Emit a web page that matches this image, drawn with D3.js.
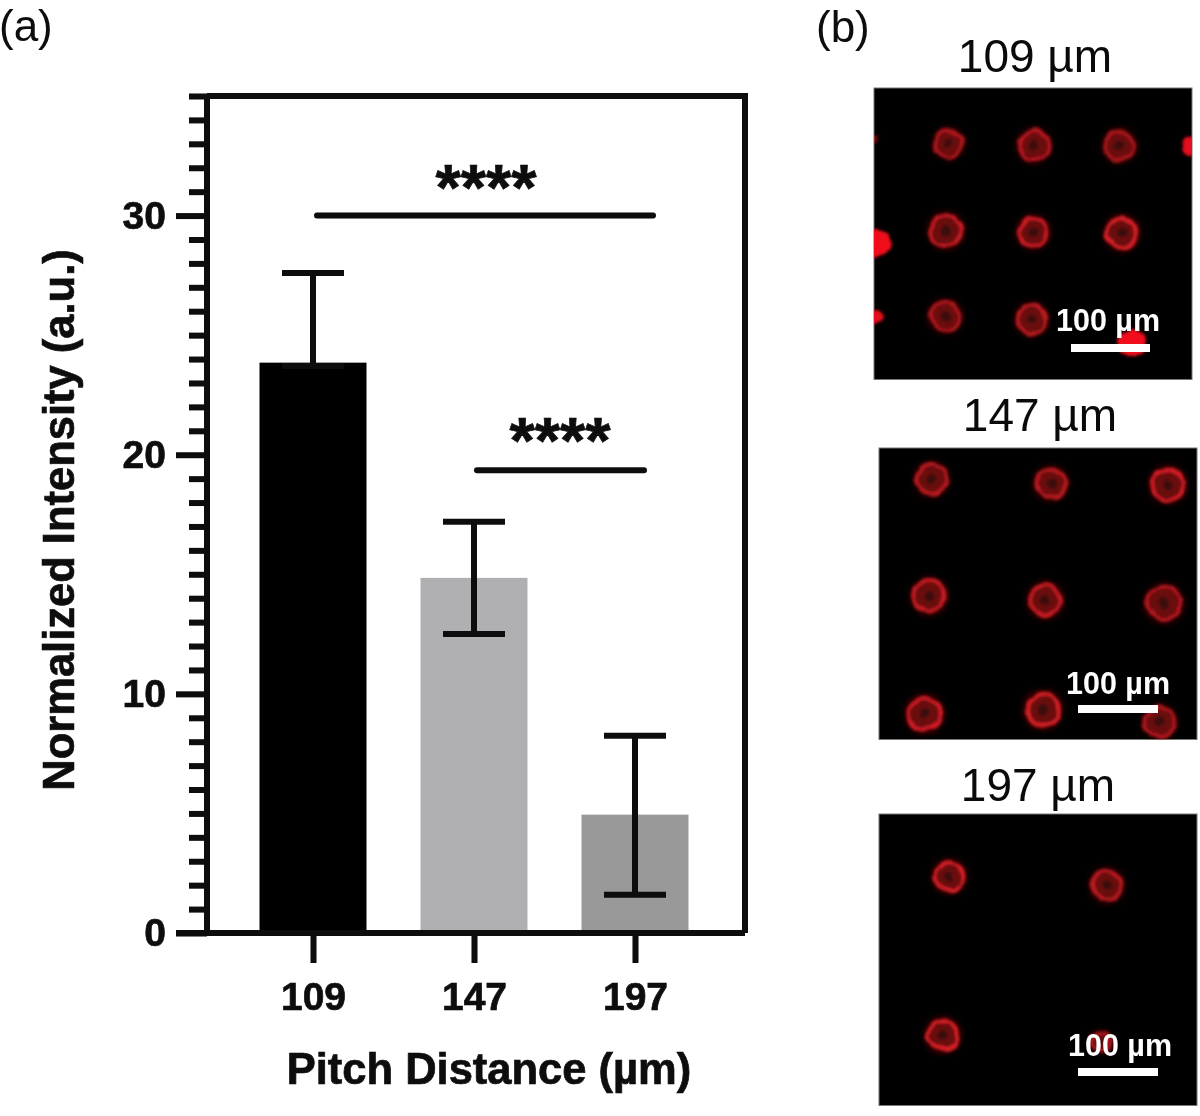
<!DOCTYPE html>
<html><head><meta charset="utf-8">
<script src="https://cdn.jsdelivr.net/npm/d3@7/dist/d3.min.js"></script>
<style>html,body{margin:0;background:#fff}svg{display:block}text{font-family:"Liberation Sans",Arial,sans-serif}</style>
</head><body><div id="c"></div>
<script>
const categories=["109","147","197"];
const means=[23.85,14.85,4.95];
const errLow=[23.7,12.5,1.6];
const errHigh=[27.6,17.2,8.25];
const barColors=["#000000","#b0b0b3","#999999"];
const majorTicks=[0,10,20,30];
const minorTicks=[1,2,3,4,5,6,7,8,9,11,12,13,14,15,16,17,18,19,21,22,23,24,25,26,27,28,29,31,32,33,34,35];
const sigBars=[{from:"109",to:"197",y:30,x0:4,x1:18,label:"****",lx:486,ly:210},{from:"147",to:"197",y:19.35,x0:3,x1:9,label:"****",lx:560,ly:463}];

// micrographs: cell centres and radii in micrometres from the panel's top-left corner
const panelTitles=["109 µm","147 µm","197 µm"];
const cells109=[[93,69,20,.65],[200,72,22,.7],[307,72,22,.6],[90,178,23,.85],[199,180,21,.95],[310,181,22,1],[89,285,22,.65],[197,289,21,.75]];
const blobs109=[[397,72,12,.95],[3,194,18,1],[1,286,10,.95],[322,319,17,1],[0,65,5,.45]];
const cells147=[[66,39,22,.75],[215,44,22,.75],[361,46,23,.95],[63,185,23,.85],[208,190,23,.85],[356,194,25,.7],[57,332,24,.95],[205,327,24,1],[351,342,22,.65]];
const blobs147=[];
const cells197=[[88,78,21,1],[285,89,22,.75],[80,276,22,1],[277,284,14,.6]];
const blobs197=[];
const panelCells=[cells109,cells147,cells197];
const panelBlobs=[blobs109,blobs147,blobs197];
const panelBoxes=[[874,88],[879,448],[879,814]];
const scaleBars=[[1071,1150,348],[1078,1158,709],[1078,1158,1072]];
const scaleLabels=[[1108,331],[1118,694],[1120,1056]];
const titleAnchors=[[1035,72],[1040,431],[1038,801]];

const W=1200,H=1116;
const svg=d3.select("#c").append("svg").attr("width",W).attr("height",H);
const defs=svg.append("defs");
const soft=defs.append("filter").attr("id","soft").attr("x","-10%").attr("y","-10%").attr("width","120%").attr("height","120%");
soft.append("feTurbulence").attr("type","fractalNoise").attr("baseFrequency",.07).attr("numOctaves",2).attr("seed",5).attr("result","n");
soft.append("feDisplacementMap").attr("in","SourceGraphic").attr("in2","n").attr("scale",6).attr("xChannelSelector","R").attr("yChannelSelector","G").attr("result","d");
soft.append("feGaussianBlur").attr("in","d").attr("stdDeviation",1.6);
defs.append("filter").attr("id","glow").attr("x","-10%").attr("y","-10%").attr("width","120%").attr("height","120%").append("feGaussianBlur").attr("stdDeviation",3.5);
defs.append("filter").attr("id","crisp").attr("x","-5%").attr("y","-5%").attr("width","110%").attr("height","110%").append("feGaussianBlur").attr("stdDeviation",.6);

const ink="#0a0a0a";
const y=d3.scaleLinear().domain([0,35]).range([933,96]);
const x=d3.scalePoint().domain(categories).range([313,635]);
const bw=107, sw=6;
const g=svg.append("g").attr("filter","url(#crisp)");

g.selectAll("rect.bar").data(categories).join("rect").attr("class","bar")
 .attr("x",d=>x(d)-bw/2).attr("width",bw)
 .attr("y",(d,i)=>y(means[i])).attr("height",(d,i)=>y(0)-y(means[i]))
 .attr("fill",(d,i)=>barColors[i]);

g.append("path").attr("d",`M207,${y(35)}H745V${y(0)}`).attr("fill","none").attr("stroke",ink).attr("stroke-width",sw);

const boldText=s=>s.attr("font-weight",700).attr("fill",ink).attr("stroke",ink).attr("stroke-width",.7);

const yAxis=d3.axisLeft(y).tickValues(majorTicks).tickSize(31).tickPadding(10).tickFormat(d3.format("d"));
const ya=g.append("g").attr("transform","translate(207,0)").call(yAxis);
ya.select(".domain").attr("stroke",ink).attr("stroke-width",sw).attr("d",`M0,${y(35)}V${y(0)}`);
ya.selectAll(".tick line").attr("stroke",ink).attr("stroke-width",sw);
ya.selectAll("text").attr("font-size",39).call(boldText);
const yMinor=d3.axisLeft(y).tickValues(minorTicks).tickSize(18).tickFormat("");
const ym=g.append("g").attr("transform","translate(207,0)").call(yMinor);
ym.select(".domain").remove();
ym.selectAll(".tick line").attr("stroke",ink).attr("stroke-width",sw);

const xAxis=d3.axisBottom(x).tickSize(30).tickPadding(19);
const xa=g.append("g").attr("transform",`translate(0,${y(0)})`).call(xAxis);
xa.select(".domain").attr("stroke",ink).attr("stroke-width",sw).attr("d","M176,0H745");
xa.selectAll(".tick line").attr("stroke",ink).attr("stroke-width",sw);
xa.selectAll("text").attr("font-size",39).call(boldText);

const eb=g.selectAll("g.err").data(categories).join("g").attr("class","err").attr("stroke",ink).attr("stroke-width",sw);
eb.append("line").attr("x1",d=>x(d)).attr("x2",d=>x(d)).attr("y1",(d,i)=>y(errHigh[i])).attr("y2",(d,i)=>y(errLow[i]));
eb.append("line").attr("x1",d=>x(d)-31).attr("x2",d=>x(d)+31).attr("y1",(d,i)=>y(errHigh[i])).attr("y2",(d,i)=>y(errHigh[i]));
eb.append("line").attr("x1",d=>x(d)-31).attr("x2",d=>x(d)+31).attr("y1",(d,i)=>y(errLow[i])).attr("y2",(d,i)=>y(errLow[i]));

g.selectAll("line.sig").data(sigBars).join("line").attr("class","sig")
 .attr("x1",d=>x(d.from)+d.x0).attr("x2",d=>x(d.to)+d.x1).attr("y1",d=>y(d.y)).attr("y2",d=>y(d.y))
 .attr("stroke",ink).attr("stroke-width",sw).attr("stroke-linecap","round");
g.selectAll("text.sig").data(sigBars).join("text").attr("class","sig")
 .attr("x",d=>d.lx).attr("y",d=>d.ly)
 .attr("text-anchor","middle").attr("font-size",65).call(boldText).text(d=>d.label);

g.append("text").attr("x",489).attr("y",1084).attr("text-anchor","middle").attr("font-size",43.5).call(boldText).text("Pitch Distance (µm)");
g.append("text").attr("transform","translate(74,520) rotate(-90)").attr("text-anchor","middle").attr("font-size",43.5).call(boldText).text("Normalized Intensity (a.u.)");

g.append("text").attr("x",-1).attr("y",41).attr("font-size",44).attr("fill",ink).text("(a)");
g.append("text").attr("x",816).attr("y",42).attr("font-size",44).attr("fill",ink).text("(b)");

const umW=397.5,umH=364;
panelTitles.forEach((t,i)=>{
  const [px,py]=panelBoxes[i];
  const sx=d3.scaleLinear().domain([0,umW]).range([0,318]);
  const sy=d3.scaleLinear().domain([0,umH]).range([0,291.5]);
  const cid="clip"+i;
  defs.append("clipPath").attr("id",cid).append("rect").attr("width",318).attr("height",291.5);
  const p=svg.append("g").attr("transform",`translate(${px},${py})`);
  p.append("rect").attr("width",318).attr("height",291.5).attr("fill","#000").attr("stroke","#777").attr("stroke-width",1);
  const c=p.append("g").attr("clip-path",`url(#${cid})`);
  c.append("g").attr("filter","url(#glow)").selectAll("circle").data(panelCells[i]).join("circle")
   .attr("cx",d=>sx(d[0])).attr("cy",d=>sy(d[1])).attr("r",d=>sx(d[2])).attr("fill","#b00").attr("opacity",d=>.5*d[3]);
  const ring=c.append("g").attr("filter","url(#soft)");
  ring.selectAll("circle").data(panelCells[i]).join("circle")
   .attr("cx",d=>sx(d[0])).attr("cy",d=>sy(d[1])).attr("r",d=>sx(d[2])*.84)
   .attr("fill","#6a0a10").attr("stroke","#dc2028").attr("stroke-width",3.5).attr("stroke-opacity",d=>d[3]);
  ring.selectAll("ellipse").data(panelCells[i]).join("ellipse")
   .attr("cx",d=>sx(d[0])).attr("cy",d=>sy(d[1])).attr("rx",d=>sx(d[2])*.28).attr("ry",d=>sx(d[2])*.28)
   .attr("fill","#3a0708");
  c.append("g").attr("filter","url(#soft)").selectAll("circle").data(panelBlobs[i]).join("circle")
   .attr("cx",d=>sx(d[0])).attr("cy",d=>sy(d[1])).attr("r",d=>sx(d[2])).attr("fill","#f2101a").attr("opacity",d=>d[3]);
  const [b0,b1,by]=scaleBars[i];
  svg.append("rect").attr("x",b0).attr("width",b1-b0).attr("y",by-4).attr("height",8).attr("fill","#fff");
  svg.append("text").attr("x",scaleLabels[i][0]).attr("y",scaleLabels[i][1]).attr("text-anchor","middle").attr("font-size",30.5).attr("font-weight",700).attr("fill","#fff").text("100 µm");
  svg.append("text").attr("x",titleAnchors[i][0]).attr("y",titleAnchors[i][1]).attr("text-anchor","middle").attr("font-size",46).attr("fill",ink).text(t);
});
</script></body></html>
